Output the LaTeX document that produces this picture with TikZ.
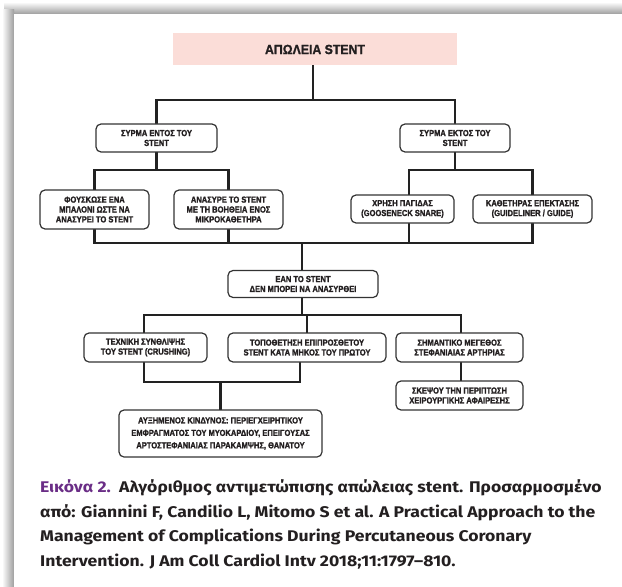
\documentclass[tikz,border=0pt]{standalone}
\usepackage{fontspec}
\newfontfamily\boxfont{Liberation Sans Bold}[FakeStretch=0.86,FakeBold=1.6]
\newfontfamily\titlefont{Liberation Sans Bold}[FakeStretch=0.92,FakeBold=1.3]
\newfontfamily\capfont{Fira Sans}[FakeStretch=1.14]
\usetikzlibrary{backgrounds}
\definecolor{boxline}{HTML}{333333}
\definecolor{connc}{HTML}{222222}
\definecolor{txt}{HTML}{231F20}
\definecolor{pinkfill}{HTML}{FBDDD8}
\definecolor{purp}{HTML}{6A2D86}
\definecolor{captxt}{HTML}{231F20}
\begin{document}
\begin{tikzpicture}[x=1bp,y=-1bp,
  box/.style={draw=boxline, line width=1.2bp, rounded corners=5bp, fill=white,
    align=center, inner sep=0pt, text=txt,
    font=\boxfont\fontsize{8.8}{9.9}\selectfont},
  titlebox/.style={fill=pinkfill, inner sep=0pt, text=txt,
    font=\titlefont\fontsize{13.4}{15}\selectfont},
  conn/.style={draw=connc, line width=2.2bp, line join=miter, line cap=rect},
  capline/.style={anchor=base west, inner sep=0pt, text=captxt,
    font=\capfont\bfseries\fontsize{15.5}{20}\selectfont}]
\useasboundingbox (0,0) rectangle (622,587);

% nodes
\node[titlebox, minimum width=284bp, minimum height=32bp] (T) at (315,49.5) {ΑΠΩΛΕΙΑ STENT};

\node[box, minimum width=121bp, minimum height=28bp] (A) at (156.5,138) {ΣΥΡΜΑ ΕΝΤΟΣ ΤΟΥ\\STENT};
\node[box, minimum width=110bp, minimum height=28bp] (B) at (455,138) {ΣΥΡΜΑ ΕΚΤΟΣ ΤΟΥ\\STENT};

\node[box, minimum width=109bp, minimum height=39bp] (A1) at (94.5,209.5) {ΦΟΥΣΚΩΣΕ ΕΝΑ\\ΜΠΑΛΟΝΙ ΩΣΤΕ ΝΑ\\ΑΝΑΣΥΡΕΙ ΤΟ STENT};
\node[box, minimum width=109bp, minimum height=39bp] (A2) at (228.5,209.5) {ΑΝΑΣΥΡΕ ΤΟ STENT\\ΜΕ ΤΗ ΒΟΗΘΕΙΑ ΕΝΟΣ\\ΜΙΚΡΟΚΑΘΕΤΗΡΑ};
\node[box, minimum width=103bp, minimum height=28bp] (B1) at (402.5,209) {ΧΡΗΣΗ ΠΑΓΙΔΑΣ\\(GOOSENECK SNARE)};
\node[box, minimum width=119bp, minimum height=28bp] (B2) at (532.5,209) {ΚΑΘΕΤΗΡΑΣ ΕΠΕΚΤΑΣΗΣ\\(GUIDELINER / GUIDE)};

\node[box, minimum width=150bp, minimum height=27bp] (M) at (303,284) {ΕΑΝ ΤΟ STENT\\ΔΕΝ ΜΠΟΡΕΙ ΝΑ ΑΝΑΣΥΡΘΕΙ};

\node[box, minimum width=123bp, minimum height=29bp] (C1) at (145.5,347.5) {ΤΕΧΝΙΚΗ ΣΥΝΘΛΙΨΗΣ\\ΤΟΥ STENT (CRUSHING)};
\node[box, minimum width=158bp, minimum height=29bp] (C2) at (307,347.5) {ΤΟΠΟΘΕΤΗΣΗ ΕΠΙΠΡΟΣΘΕΤΟΥ\\STENT ΚΑΤΑ ΜΗΚΟΣ ΤΟΥ ΠΡΩΤΟΥ};
\node[box, minimum width=127bp, minimum height=29bp] (C3) at (459.5,347.5) {ΣΗΜΑΝΤΙΚΟ ΜΕΓΕΘΟΣ\\ΣΤΕΦΑΝΙΑΙΑΣ ΑΡΤΗΡΙΑΣ};
\node[box, minimum width=127bp, minimum height=29bp] (E) at (459.5,395.5) {ΣΚΕΨΟΥ ΤΗΝ ΠΕΡΙΠΤΩΣΗ\\ΧΕΙΡΟΥΡΓΙΚΗΣ ΑΦΑΙΡΕΣΗΣ};

\node[box, minimum width=203bp, minimum height=47bp,
  font=\boxfont\fontsize{8.8}{12.5}\selectfont] (D) at (220.5,433.5) {ΑΥΞΗΜΕΝΟΣ ΚΙΝΔΥΝΟΣ: ΠΕΡΙΕΓΧΕΙΡΗΤΙΚΟΥ\\ΕΜΦΡΑΓΜΑΤΟΣ ΤΟΥ ΜΥΟΚΑΡΔΙΟΥ, ΕΠΕΙΓΟΥΣΑΣ\\ΑΡΤΟΣΤΕΦΑΝΙΑΙΑΣ ΠΑΡΑΚΑΜΨΗΣ, ΘΑΝΑΤΟΥ};

% bus levels
\coordinate (y1) at (0,100);
\coordinate (y2) at (0,170);
\coordinate (y3) at (0,243);
\coordinate (y4) at (0,315);
\coordinate (y5) at (0,382);

% caption
\node[capline] (cap1) at (40,492.5) {\textcolor{purp}{Εικόνα 2.}\ \ Αλγόριθμος αντιμετώπισης απώλειας stent. Προσαρμοσμένο};
\node[capline] (cap2) at (40,517) {από: Giannini F, Candilio L, Mitomo S et al. A Practical Approach to the};
\node[capline] (cap3) at (40,541.5) {Management of Complications During Percutaneous Coronary};
\node[capline] (cap4) at (40,566) {Intervention. J Am Coll Cardiol Intv 2018;11:1797–810.};

\begin{scope}[on background layer]
  \fill[white] (0,0) rectangle (622,587);
  \shade[top color=white, bottom color=black!38] (4,2) rectangle (622,14);
  \shade[left color=white, right color=black!38] (2,10) rectangle (14,587);
  \fill[white] (14,14) rectangle (622,587);

  \draw[conn] (313,0 |- T.south) -- (313,0 |- y1);
  \draw[conn] (A.north) -- (A.north |- y1) -- (B.north |- y1) -- (B.north);

  \draw[conn] (A.south) -- (A.south |- y2);
  \draw[conn] (A1.north) -- (A1.north |- y2) -- (A2.north |- y2) -- (A2.north);
  \draw[conn] (B.south) -- (B.south |- y2);
  \draw[conn] ([xshift=6.5bp]B1.north) -- ([xshift=6.5bp]B1.north |- y2) -- (B2.north |- y2) -- (B2.north);

  \draw[conn] (A1.south) -- (A1.south |- y3) -- (B2.south |- y3) -- (B2.south);
  \draw[conn] (A2.south) -- (A2.south |- y3);
  \draw[conn] ([xshift=6.5bp]B1.south) -- ([xshift=6.5bp]B1.south |- y3);
  \draw[conn] ([xshift=-1bp]M.north) -- ([xshift=-1bp]M.north |- y3);

  \draw[conn] ([xshift=-1bp]M.south) -- ([xshift=-1bp]M.south |- y4);
  \draw[conn] ([xshift=-1.5bp]C1.north) -- ([xshift=-1.5bp]C1.north |- y4) -- ([xshift=1.5bp]C3.north |- y4) -- ([xshift=1.5bp]C3.north);
  \draw[conn] (C2.north) -- (C2.north |- y4);

  \draw[conn] ([xshift=-1.5bp]C1.south) -- ([xshift=-1.5bp]C1.south |- y5) -- ([xshift=-7bp]C2.south |- y5) -- ([xshift=-7bp]C2.south);
  \draw[conn] (D.north) -- (D.north |- y5);
  \draw[conn] ([xshift=1.5bp]C3.south) -- ([xshift=1.5bp]E.north);
\end{scope}
\end{tikzpicture}
\end{document}
